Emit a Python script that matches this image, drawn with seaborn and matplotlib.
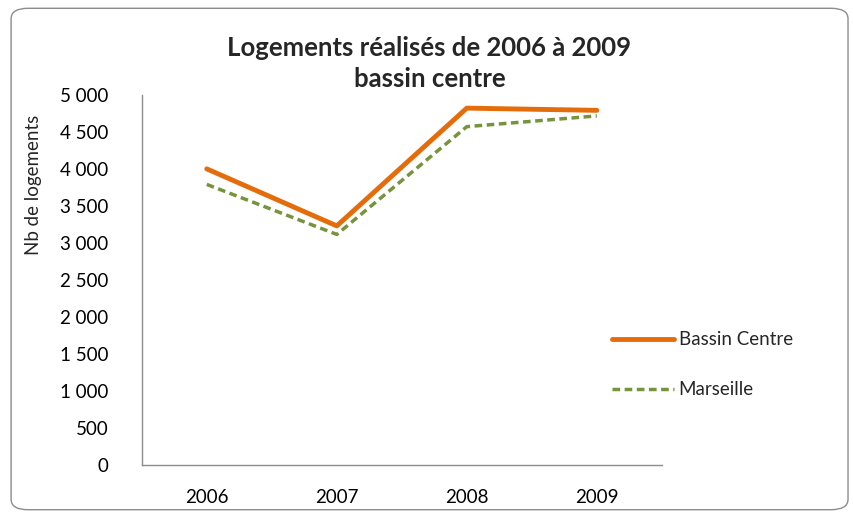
import numpy as np
import pandas as pd
import matplotlib
matplotlib.use("Agg")
import matplotlib.pyplot as plt
from matplotlib.patches import FancyBboxPatch
from matplotlib.lines import Line2D
from matplotlib.ticker import FuncFormatter
import seaborn as sns

# values
years = ["2006", "2007", "2008", "2009"]
bassin_centre = [4000, 3230, 4820, 4790]
marseille = [3790, 3115, 4570, 4715]

sns.set_style("white")
plt.rcParams['font.family'] = ['Lato', 'DejaVu Sans']

df = pd.DataFrame({
    "annee": years * 2,
    "logements": bassin_centre + marseille,
    "serie": ["Bassin Centre"] * 4 + ["Marseille"] * 4,
})

fig = plt.figure(figsize=(8.54, 5.18), dpi=100)
ax = fig.add_axes([0.166, 0.102, 0.609, 0.715])

# rounded chart frame like Excel
frame = FancyBboxPatch((0.013, 0.016), 0.98, 0.968, boxstyle="round,pad=0,rounding_size=0.02",
                       transform=fig.transFigure, fill=False, edgecolor="#8c8c8c", linewidth=1.0)
fig.patches.append(frame)

sns.lineplot(data=df, x="annee", y="logements", hue="serie", style="serie",
             palette={"Bassin Centre": "#e46c0a", "Marseille": "#77933c"},
             dashes={"Bassin Centre": "", "Marseille": (2.2, 1.3)},
             linewidth=3.5, ax=ax, legend=False, sort=False)
# thinner dashed line for Marseille
ax.lines[1].set_linewidth(2.5)

ax.set_xlim(-0.5, 3.5)
ax.set_ylim(0, 5000)
ax.set_yticks(np.arange(0, 5001, 500))
ax.yaxis.set_major_formatter(FuncFormatter(lambda v, p: f"{int(v):,}".replace(",", " ")))
ax.tick_params(axis="both", length=0, labelsize=13.5, colors="black")
ax.tick_params(axis="x", pad=17)
ax.tick_params(axis="y", pad=24)
ax.set_xlabel("")
ax.set_ylabel("")
fig.text(0.039, 0.643, "Nb de logements", rotation=90, ha="center", va="center", fontsize=13.5)

for side in ["top", "right"]:
    ax.spines[side].set_visible(False)
for side in ["left", "bottom"]:
    ax.spines[side].set_color("#8c8c8c")
    ax.spines[side].set_linewidth(1.0)

fig.text(0.503, 0.877, "Logements réalisés de 2006 à 2009\nbassin centre", ha="center", va="center",
         fontsize=18.5, fontweight="bold", linespacing=1.35)

# legend drawn at right
handles = [Line2D([], [], color="#e46c0a", lw=3.5),
           Line2D([], [], color="#77933c", lw=2.5, dashes=(2.2, 1.3))]
fig.legend(handles, ["Bassin Centre", "Marseille"], loc="center left",
           bbox_to_anchor=(0.697, 0.296), frameon=False, fontsize=13.5,
           handlelength=3.3, labelspacing=1.75, handletextpad=0.25)

fig.savefig("out.png", dpi=100)
